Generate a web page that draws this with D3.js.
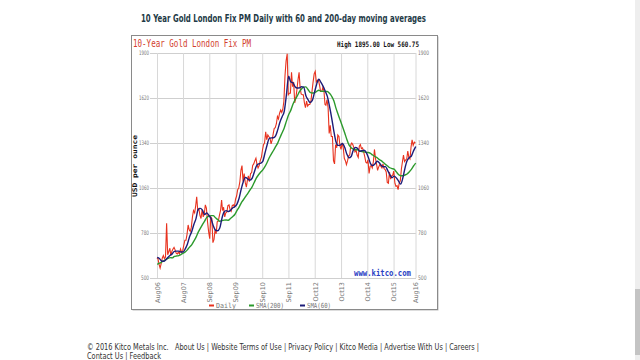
<!DOCTYPE html>
<html><head><meta charset="utf-8">
<script src="https://cdn.jsdelivr.net/npm/d3@7"></script>
<style>body{margin:0;background:#fff;overflow:hidden}svg{display:block}</style>
</head><body><svg id="c" width="640" height="360"></svg>
<script>
// ---------- DATA ----------
const pageTitle = "10 Year Gold London Fix PM Daily with 60 and 200-day moving averages";
const chartTitle = "10-Year Gold London Fix PM";
const highLowText = "High 1895.00 Low 560.75";
const yTicks = [500, 780, 1060, 1340, 1620, 1900];
const xTickDates = ["2006-08-25","2007-08-28","2008-09-02","2009-09-10","2010-09-20","2011-09-25","2012-10-01","2013-10-08","2014-10-14","2015-10-20","2016-08-25"];
const xTickLabels = ["Aug06","Aug07","Sep08","Sep09","Sep10","Sep11","Oct12","Oct13","Oct14","Oct15","Aug16"];
const firstMonth = "2006-08", lastMonth = "2016-08";
// daily fix, sampled around the 8th and the 23rd of each month (Aug 2006 .. Aug 2016)
const dailyEarly = [
  null, 620, 562, 625, 620,
  840, 665, 640, 680, 675, 650, 650, 660, 705, 735, 830, 790,
  880, 905, 1005, 930, 870, 880, 955, 850, 745, 870, 740, 775,
  855, 920, 920, 880, 910, 955, 915, 955, 990, 1050, 1100, 1200,
  1150, 1065, 1135, 1150, 1200, 1230, 1205, 1200, 1250, 1330, 1410, 1390,
  1370, 1360, 1430, 1460, 1490, 1545, 1550, 1760, 1895, 1650, 1780, 1720,
  1620, 1735, 1685, 1640, 1590, 1600, 1580, 1600, 1720, 1785, 1730, 1700,
  1660, 1665, 1575, 1560, 1450, 1380, 1210, 1310, 1380, 1300, 1310, 1230,
  1230, 1265, 1340, 1310, 1295, 1250, 1330, 1310, 1255, 1215, 1150, 1200,
  1225, 1240, 1170, 1205, 1185, 1180, 1160, 1090, 1115, 1140, 1090, 1075,
  1090, 1180, 1265, 1235, 1290, 1240, 1360, 1345
];
const dailyLate = [
  625, 585, 590, 640, 630,
  645, 685, 665, 690, 655, 660, 680, 670, 735, 770, 800, 815,
  920, 950, 920, 890, 925, 900, 935, 790, 880, 720, 800, 850,
  890, 985, 940, 905, 950, 925, 950, 945, 1010, 1060, 1170, 1100,
  1095, 1110, 1100, 1155, 1210, 1245, 1185, 1230, 1295, 1340, 1360, 1380,
  1335, 1400, 1435, 1505, 1525, 1530, 1600, 1850, 1640, 1650, 1690, 1590,
  1670, 1780, 1645, 1640, 1560, 1570, 1580, 1660, 1770, 1720, 1730, 1660,
  1685, 1580, 1610, 1400, 1380, 1230, 1330, 1390, 1320, 1340, 1245, 1205,
  1260, 1330, 1330, 1285, 1265, 1320, 1305, 1285, 1220, 1235, 1195, 1185,
  1300, 1205, 1190, 1195, 1210, 1175, 1095, 1160, 1135, 1165, 1070, 1050,
  1105, 1225, 1225, 1240, 1250, 1315, 1325, 1340
];
// moving averages at month end
const sma60 = [
  628, 621, 606, 604, 614,
  629, 642, 650, 666, 667, 667, 662, 662, 681, 710, 757, 788,
  833, 871, 926, 933, 922, 895, 905, 889, 869, 825, 798, 794,
  811, 872, 909, 919, 914, 921, 936, 943, 960, 996, 1055, 1101,
  1126, 1116, 1109, 1119, 1155, 1195, 1210, 1214, 1226, 1276, 1328, 1368,
  1372, 1373, 1384, 1423, 1469, 1504, 1537, 1640, 1755, 1720, 1715, 1690,
  1682, 1683, 1690, 1688, 1636, 1610, 1592, 1605, 1655, 1706, 1737, 1717,
  1692, 1661, 1630, 1568, 1497, 1414, 1348, 1325, 1327, 1337, 1313, 1272,
  1248, 1256, 1293, 1312, 1307, 1288, 1292, 1295, 1282, 1252, 1212, 1200,
  1209, 1226, 1219, 1201, 1192, 1193, 1170, 1143, 1124, 1134, 1123, 1104,
  1084, 1122, 1181, 1229, 1249, 1259, 1291, 1318
];
const sma200 = [
  585, 592, 599, 607, 615,
  622, 627, 625, 634, 637, 639, 646, 654, 662, 675, 692, 706,
  730, 754, 784, 809, 832, 854, 877, 885, 888, 888, 875, 864,
  853, 857, 860, 861, 859, 870, 881, 895, 919, 941, 968, 987,
  1007, 1027, 1046, 1066, 1093, 1121, 1141, 1158, 1173, 1193, 1219, 1248,
  1272, 1295, 1317, 1341, 1373, 1404, 1434, 1476, 1516, 1543, 1581, 1609,
  1633, 1659, 1676, 1688, 1689, 1673, 1655, 1651, 1652, 1661, 1668, 1662,
  1662, 1660, 1660, 1649, 1631, 1603, 1557, 1517, 1480, 1443, 1404, 1363,
  1328, 1310, 1302, 1298, 1298, 1291, 1287, 1285, 1282, 1281, 1275, 1265,
  1256, 1249, 1238, 1230, 1219, 1207, 1197, 1186, 1181, 1177, 1160, 1144,
  1136, 1136, 1141, 1147, 1160, 1176, 1197, 1215
];
const legendItems = [["Daily", "#e8321e"], ["SMA(200)", "#2c9a2c"], ["SMA(60)", "#1c1c78"]];
const footerLine1 = "© 2016 Kitco Metals Inc.   About Us | Website Terms of Use | Privacy Policy | Kitco Media | Advertise With Us | Careers |";
const footerLine2 = "Contact Us | Feedback";

// ---------- BUILD ----------
const parseM = d3.timeParse("%Y-%m");
const parseD = d3.timeParse("%Y-%m-%d");
const months = d3.timeMonth.range(parseM(firstMonth), d3.timeMonth.offset(parseM(lastMonth), 1));
const daily = [];
months.forEach((m, i) => {
  if (dailyEarly[i] != null) daily.push({d: new Date(m.getFullYear(), m.getMonth(), 8), v: dailyEarly[i]});
  if (dailyLate[i] != null) daily.push({d: new Date(m.getFullYear(), m.getMonth(), 23), v: dailyLate[i]});
});
const s60 = months.map((m, i) => ({d: new Date(m.getFullYear(), m.getMonth(), 28), v: sma60[i]}));
const s200 = months.map((m, i) => ({d: new Date(m.getFullYear(), m.getMonth(), 28), v: sma200[i]}));

const svg = d3.select("#c");
const plot = {l: 150, r: 416, t: 53, b: 278};
const x = d3.scaleTime().domain([parseD("2006-08-25"), parseD("2016-08-25")]).range([157, 415.5]);
const y = d3.scaleLinear().domain([500, 1900]).range([plot.b, plot.t]);

// page title
svg.append("text").attr("x", 283.5).attr("y", 22).attr("text-anchor", "middle")
  .attr("font-family", "DejaVu Sans, Verdana, sans-serif").attr("font-weight", "bold")
  .attr("font-size", 10.5).attr("fill", "#1e3a46")
  .attr("textLength", 285).attr("lengthAdjust", "spacingAndGlyphs").text(pageTitle);

// frame
svg.append("rect").attr("x", 132.5).attr("y", 36.5).attr("width", 306).attr("height", 274)
  .attr("fill", "#bbb");
svg.append("rect").attr("x", 131.5).attr("y", 35.5).attr("width", 306).attr("height", 274)
  .attr("fill", "#fff").attr("stroke", "#8a8a8a");

svg.append("text").attr("x", 133).attr("y", 47).attr("font-family", "DejaVu Sans Mono, monospace")
  .attr("font-size", 10).attr("fill", "#d2402e").attr("textLength", 118)
  .attr("lengthAdjust", "spacingAndGlyphs").text(chartTitle);
svg.append("text").attr("x", 337).attr("y", 47).attr("font-family", "DejaVu Sans Mono, monospace")
  .attr("font-size", 7.5).attr("font-weight", "bold").attr("fill", "#111").attr("textLength", 82)
  .attr("lengthAdjust", "spacingAndGlyphs").text(highLowText);

// grid
const gy = svg.append("g").attr("transform", `translate(${plot.l},0)`)
  .call(d3.axisRight(y).tickValues(yTicks).tickSize(plot.r - plot.l).tickFormat(""));
gy.select(".domain").remove();
gy.selectAll("line").attr("stroke", "#cfcfcf");
const gx = svg.append("g").attr("transform", `translate(0,${plot.t})`)
  .call(d3.axisBottom(x).tickValues(xTickDates.map(parseD)).tickSize(plot.b - plot.t).tickFormat(""));
gx.select(".domain").remove();
gx.selectAll("line").attr("stroke", "#d8d8d8");

// y labels left & right
const yl = svg.append("g").attr("transform", `translate(${plot.l},0)`)
  .call(d3.axisLeft(y).tickValues(yTicks).tickSize(0).tickPadding(1).tickFormat(d3.format("d")));
yl.select(".domain").remove();
yl.selectAll("text").attr("font-family", "DejaVu Sans, sans-serif").attr("font-size", 6.2).attr("fill", "#777")
  .attr("textLength", d => d >= 1000 ? 10 : 8).attr("lengthAdjust", "spacingAndGlyphs");
const yr = svg.append("g").attr("transform", `translate(${plot.r},0)`)
  .call(d3.axisRight(y).tickValues(yTicks).tickSize(0).tickPadding(2).tickFormat(d3.format("d")));
yr.select(".domain").remove();
yr.selectAll("text").attr("font-family", "DejaVu Sans, sans-serif").attr("font-size", 6.2).attr("fill", "#777")
  .attr("textLength", d => d >= 1000 ? 11 : 8.5).attr("lengthAdjust", "spacingAndGlyphs");

// x labels rotated
const xl = svg.append("g").attr("transform", `translate(0,${plot.b})`)
  .call(d3.axisBottom(x).tickValues(xTickDates.map(parseD)).tickSize(0)
    .tickFormat((d, i) => xTickLabels[i]));
xl.select(".domain").remove();
xl.selectAll("text").attr("font-family", "DejaVu Sans, sans-serif").attr("font-size", 6.5).attr("fill", "#777")
  .attr("transform", "rotate(-90)").attr("text-anchor", "end").attr("x", -4).attr("y", 0).attr("dy", "0.35em");

// axis title
svg.append("text").attr("transform", "translate(137,166) rotate(-90)").attr("text-anchor", "middle")
  .attr("font-family", "DejaVu Sans Mono, monospace").attr("font-weight", "bold").attr("font-size", 6.5)
  .attr("fill", "#111").attr("textLength", 62).attr("lengthAdjust", "spacingAndGlyphs").text("USD per ounce");

// lines
svg.append("clipPath").attr("id", "cp").append("rect")
  .attr("x", plot.l).attr("y", plot.t - 2).attr("width", plot.r - plot.l + 2).attr("height", plot.b - plot.t + 4);
const line = d3.line().x(d => x(d.d)).y(d => y(d.v));
const lg = svg.append("g").attr("clip-path", "url(#cp)");
lg.append("path").datum(daily).attr("d", line).attr("fill", "none").attr("stroke", legendItems[0][1]).attr("stroke-width", 1.1);
lg.append("path").datum(s200).attr("d", line.curve(d3.curveMonotoneX)).attr("fill", "none").attr("stroke", legendItems[1][1]).attr("stroke-width", 1.4);
lg.append("path").datum(s60).attr("d", line.curve(d3.curveMonotoneX)).attr("fill", "none").attr("stroke", legendItems[2][1]).attr("stroke-width", 1.4);

// watermark
svg.append("text").attr("x", 354).attr("y", 276).attr("font-family", "DejaVu Sans Mono, monospace")
  .attr("font-weight", "bold").attr("font-size", 9).attr("fill", "#2b3fc4")
  .attr("textLength", 57).attr("lengthAdjust", "spacingAndGlyphs").text("www.kitco.com");

// legend
const legX = [209, 249, 300];
const legW = [20, 28, 24];
legendItems.forEach((it, i) => {
  svg.append("line").attr("x1", legX[i]).attr("x2", legX[i] + 5).attr("y1", 305.5).attr("y2", 305.5)
    .attr("stroke", it[1]).attr("stroke-width", 2);
  svg.append("text").attr("x", legX[i] + 7).attr("y", 308).attr("font-family", "DejaVu Sans Mono, monospace")
    .attr("font-size", 7).attr("fill", "#777").attr("textLength", legW[i])
    .attr("lengthAdjust", "spacingAndGlyphs").text(it[0]);
});

// footer
svg.append("text").attr("x", 87).attr("y", 350).attr("font-family", "DejaVu Sans, Verdana, sans-serif")
  .attr("font-size", 8.5).attr("fill", "#333").attr("textLength", 392)
  .attr("lengthAdjust", "spacingAndGlyphs").attr("xml:space", "preserve").style("white-space", "pre").text(footerLine1);
svg.append("text").attr("x", 87).attr("y", 359).attr("font-family", "DejaVu Sans, Verdana, sans-serif")
  .attr("font-size", 8.5).attr("fill", "#333").attr("textLength", 74)
  .attr("lengthAdjust", "spacingAndGlyphs").text(footerLine2);

// scrollbar
svg.append("rect").attr("x", 635).attr("y", 0).attr("width", 5).attr("height", 360).attr("fill", "#eeeeee");
svg.append("rect").attr("x", 635).attr("y", 289).attr("width", 5).attr("height", 66).attr("fill", "#c4c4c4");
</script></body></html>
